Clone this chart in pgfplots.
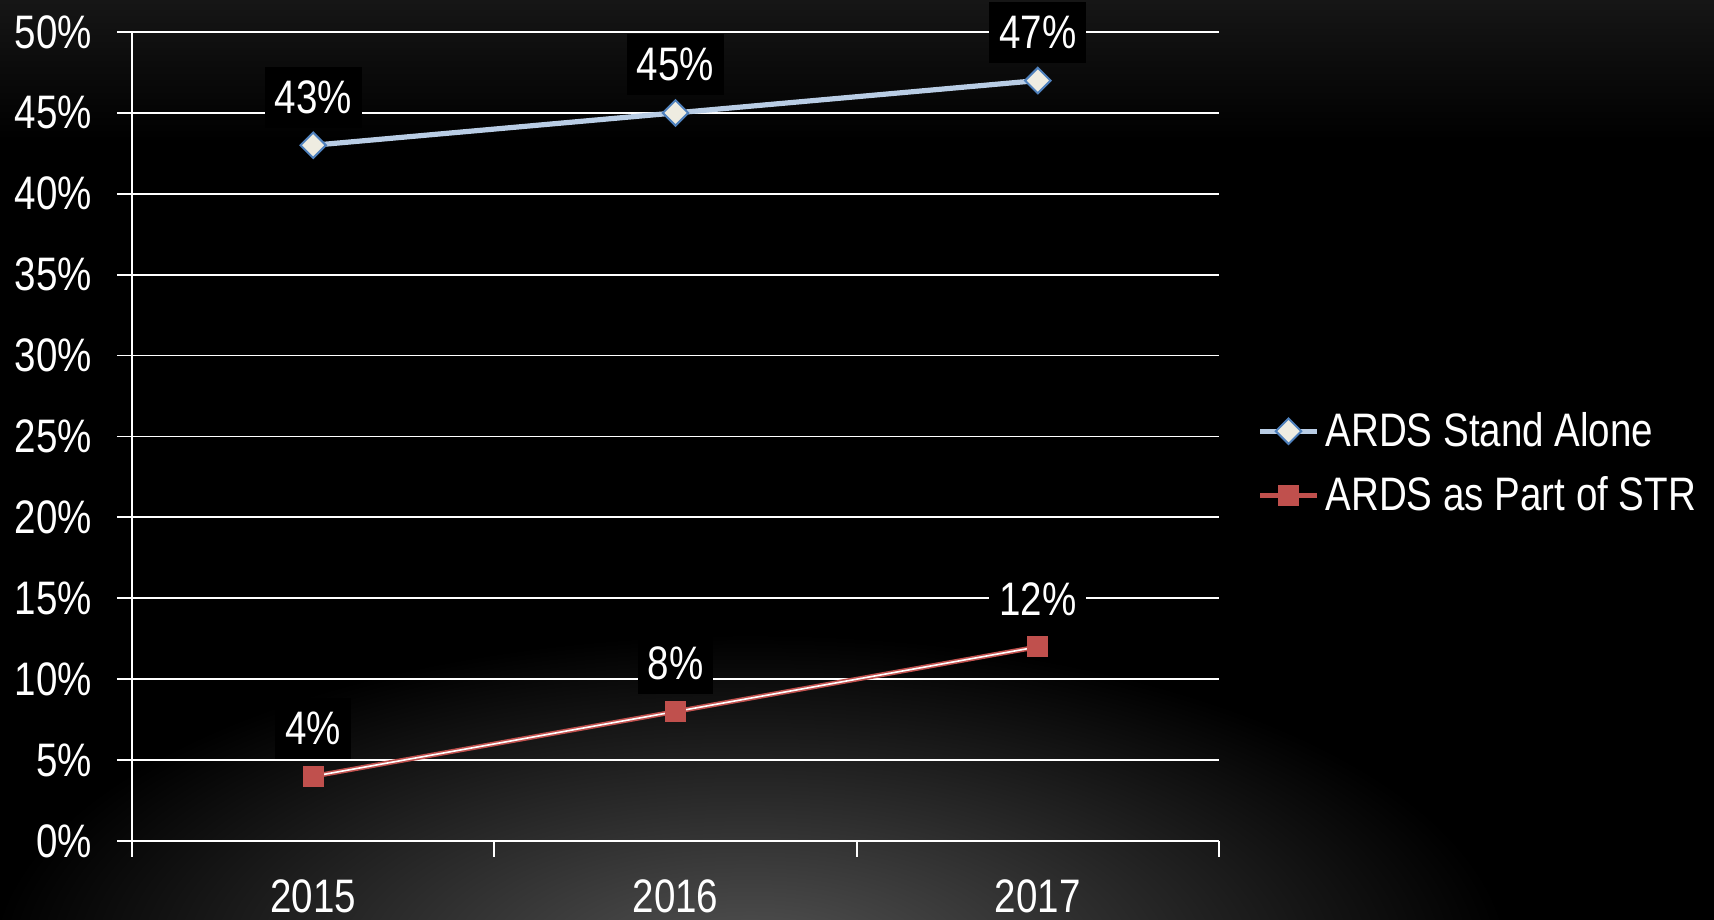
\documentclass[border=0pt]{standalone}
\usepackage{fontspec}
\setmainfont{Liberation Sans}[FakeStretch=0.82]
\usepackage{pgfplots}
\pgfplotsset{compat=1.18}
\definecolor{blueline}{RGB}{185,205,229}
\definecolor{bluemark}{RGB}{79,129,189}
\definecolor{cream}{RGB}{238,236,225}
\definecolor{redline}{RGB}{192,80,77}
\definecolor{glow}{RGB}{84,84,84}
\definecolor{topglow}{RGB}{22,22,22}
\begin{document}
\begin{tikzpicture}[font=\fontsize{23.5pt}{28pt}\selectfont]
\useasboundingbox (0,0) rectangle (857pt,460pt);
\fill[black] (0,0) rectangle (857pt,460pt);
\begin{scope}
\clip (0,0) rectangle (857pt,460pt);
\shade[top color=topglow, bottom color=black] (0pt,390pt) rectangle (857pt,460pt);
\shade[inner color=glow, outer color=black] (375pt,-22pt) ellipse [x radius=380pt, y radius=165pt];
\end{scope}
\begin{axis}[
  at={(66pt,39.5pt)}, anchor=south west,
  scale only axis, width=543.5pt, height=404.5pt,
  xmin=-0.5, xmax=2.5, ymin=0, ymax=50,
  axis x line=bottom, axis y line=left,
  axis line style={-, white, line width=0.9pt},
  xtick={0,1,2}, xticklabels={2015,2016,2017},
  minor xtick={-0.5,0.5,1.5,2.5},
  ytick={0,5,...,50},
  yticklabels={0\%,5\%,10\%,15\%,20\%,25\%,30\%,35\%,40\%,45\%,50\%},
  tick align=outside,
  major tick length=7.5pt, minor tick length=8pt,
  major x tick style={draw=none},
  minor x tick style={white, line width=0.9pt},
  y tick style={white, line width=0.9pt},
  ymajorgrids, major grid style={white, line width=0.9pt},
  ticklabel style={text=white},
  xticklabel style={yshift=-8.5pt},
  yticklabel style={xshift=-9pt},
  /pgf/number format/assume math mode=true,
  legend image code/.code={\draw[mark repeat=2,mark phase=2] plot coordinates {(0cm,0cm) (0.5cm,0cm) (1.0cm,0cm)};},
  legend style={at={(rel axis cs:1.035,0.467)}, anchor=west, draw=none, fill=none,
    text=white, font=\fontsize{23.5pt}{28pt}\selectfont, row sep=9.5pt, inner sep=0pt,
    nodes={inner xsep=3pt}},
  legend cell align=left,
  clip=false,
]
\addplot[color=blueline, line width=2.6pt, mark=square*, mark size=4.5pt,
  mark options={rotate=45, fill=cream, draw=bluemark, line width=1pt},
  nodes near coords={\pgfmathprintnumber{\pgfplotspointmeta}\%},
  every node near coord/.append style={anchor=center, yshift=24pt, fill=black, text=white, inner xsep=5pt, inner ysep=7pt}]
  coordinates {(0,43) (1,45) (2,47)};
\addplot[color=redline, line width=2.4pt, mark=square*, mark size=5pt,
  mark options={fill=redline, draw=redline, line width=0.5pt},
  nodes near coords={\pgfmathprintnumber{\pgfplotspointmeta}\%},
  every node near coord/.append style={anchor=center, yshift=24pt, fill=black, text=white, inner xsep=5pt, inner ysep=7pt}]
  coordinates {(0,4) (1,8) (2,12)};
\addplot[white, line width=0.8pt, forget plot] coordinates {(0,4) (1,8) (2,12)};
\legend{ARDS Stand Alone, ARDS as Part of STR}
\end{axis}
\end{tikzpicture}
\end{document}
